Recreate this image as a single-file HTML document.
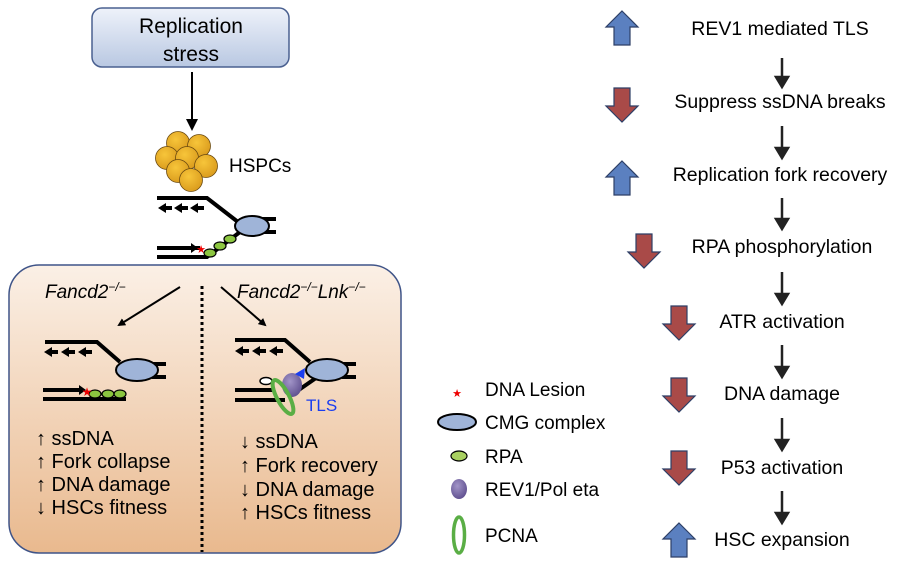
<!DOCTYPE html>
<html><head><meta charset="utf-8"><style>
html,body{margin:0;padding:0;background:#fff;}
svg{display:block;font-family:"Liberation Sans",Arial,sans-serif;}
</style></head><body>
<svg width="900" height="566" viewBox="0 0 900 566" xmlns="http://www.w3.org/2000/svg">
<defs>
<linearGradient id="bx" x1="0" y1="0" x2="0" y2="1"><stop offset="0" stop-color="#eef2fa"/><stop offset="1" stop-color="#b9c8e2"/></linearGradient>
<linearGradient id="big" x1="0" y1="0" x2="0" y2="1"><stop offset="0" stop-color="#fbf0e6"/><stop offset="1" stop-color="#e9b98e"/></linearGradient>
<radialGradient id="cell" cx="0.4" cy="0.35" r="0.7"><stop offset="0" stop-color="#f7c53a"/><stop offset="1" stop-color="#d99a1c"/></radialGradient>
<radialGradient id="pur" cx="0.4" cy="0.35" r="0.7"><stop offset="0" stop-color="#a295c8"/><stop offset="1" stop-color="#5e4e8e"/></radialGradient>
<marker id="ah" markerWidth="8" markerHeight="8" refX="6" refY="4" orient="auto" markerUnits="userSpaceOnUse"><path d="M0,0 L8,4 L0,8 z" fill="#000"/></marker>
<marker id="ah2" markerWidth="12" markerHeight="12" refX="9" refY="6" orient="auto" markerUnits="userSpaceOnUse"><path d="M0,0 L12,6 L0,12 z" fill="#000"/></marker>
<g id="up"><path d="M16,0 L32,16 L24,16 L24,34 L8,34 L8,16 L0,16 Z" fill="#5b80c0" stroke="#2d3f66" stroke-width="1.2"/></g>
<g id="dn"><path d="M8,0 L24,0 L24,18 L32,18 L16,34 L0,18 L8,18 Z" fill="#a94a48" stroke="#2d3f66" stroke-width="1.2"/></g>
</defs>

<rect x="92" y="8" width="197" height="59" rx="10" fill="url(#bx)" stroke="#4a6090" stroke-width="1.5"/>
<text x="191" y="33" font-size="21" text-anchor="middle">Replication</text>
<text x="191" y="61" font-size="21" text-anchor="middle">stress</text>
<line x1="192" y1="72" x2="192" y2="128" stroke="#000" stroke-width="2" marker-end="url(#ah2)"/>

<g stroke="#6b4a10" stroke-width="0.8" fill="url(#cell)">
<circle cx="178" cy="143" r="11.5"/><circle cx="199" cy="146" r="11.5"/>
<circle cx="167" cy="158" r="11.5"/><circle cx="187" cy="158" r="11.5"/>
<circle cx="178" cy="171" r="11.5"/><circle cx="206" cy="166" r="11.5"/>
<circle cx="191" cy="180" r="11.5"/>
</g>
<text x="229" y="172" font-size="19">HSPCs</text>

<g stroke="#000" stroke-width="4" fill="none">
<polyline points="157,198 207,198 238,222"/>
<polyline points="157,257 207,257 240,232"/>
<line x1="157" y1="248" x2="200" y2="248"/>
<line x1="262" y1="219" x2="276" y2="219"/><line x1="262" y1="232" x2="276" y2="232"/>
</g>
<path d="M198,248 l-7,-5 v10 z" fill="#000"/>
<g fill="#000">
<path d="M158,208 l8,-5 v3 h6 v4 h-6 v3 z"/><path d="M174,208 l8,-5 v3 h6 v4 h-6 v3 z"/><path d="M190,208 l8,-5 v3 h6 v4 h-6 v3 z"/>
</g>
<ellipse cx="252" cy="226" rx="17" ry="10" fill="#9fb4d8" stroke="#000" stroke-width="2"/>
<g fill="#8cc640" stroke="#000" stroke-width="1.2">
<ellipse cx="210" cy="253" rx="6" ry="4"/><ellipse cx="220" cy="246" rx="6" ry="4"/><ellipse cx="230" cy="239" rx="6" ry="4"/>
</g>
<text x="201" y="253" font-size="11" fill="#e00" text-anchor="middle">★</text>

<rect x="9" y="265" width="392" height="288" rx="30" fill="url(#big)" stroke="#3f5488" stroke-width="1.5"/>
<text x="45" y="298" font-size="19" font-style="italic">Fancd2<tspan font-size="12" dy="-7">−/−</tspan></text>
<text x="237" y="298" font-size="19" font-style="italic">Fancd2<tspan font-size="12" dy="-7">−/−</tspan><tspan dy="7">Lnk</tspan><tspan font-size="12" dy="-7">−/−</tspan></text>
<line x1="202" y1="286" x2="202" y2="552" stroke="#000" stroke-width="3" stroke-dasharray="3,3"/>
<line x1="180" y1="287" x2="119" y2="325" stroke="#000" stroke-width="2" marker-end="url(#ah)"/>
<line x1="221" y1="287" x2="265" y2="325" stroke="#000" stroke-width="2" marker-end="url(#ah)"/>

<g stroke="#000" stroke-width="4" fill="none">
<polyline points="45,342 97,342 120,362"/>
<line x1="43" y1="390" x2="82" y2="390"/><line x1="43" y1="399" x2="126" y2="399"/>
<line x1="152" y1="364" x2="166" y2="364"/><line x1="152" y1="377" x2="166" y2="377"/>
</g>
<path d="M86,390 l-7,-5 v10 z" fill="#000"/>
<g fill="#000"><path d="M44,352 l8,-5 v3 h6 v4 h-6 v3 z"/><path d="M61,352 l8,-5 v3 h6 v4 h-6 v3 z"/><path d="M78,352 l8,-5 v3 h6 v4 h-6 v3 z"/></g>
<ellipse cx="137" cy="370" rx="21" ry="11" fill="#9fb4d8" stroke="#000" stroke-width="2"/>
<g fill="#8cc640" stroke="#000" stroke-width="1.2">
<ellipse cx="95" cy="394" rx="6" ry="4"/><ellipse cx="108" cy="394" rx="6" ry="4"/><ellipse cx="120" cy="394" rx="6" ry="4"/>
</g>
<text x="87" y="396" font-size="12" fill="#e00" text-anchor="middle">★</text>

<g stroke="#000" stroke-width="4" fill="none">
<polyline points="235,340 285,340 310,362"/>
<line x1="235" y1="390" x2="275" y2="390"/><line x1="235" y1="400" x2="285" y2="400"/>
<line x1="290" y1="396" x2="316" y2="378"/>
<line x1="342" y1="364" x2="356" y2="364"/><line x1="342" y1="377" x2="356" y2="377"/>
</g>
<g fill="#000"><path d="M235,351 l8,-5 v3 h6 v4 h-6 v3 z"/><path d="M252,351 l8,-5 v3 h6 v4 h-6 v3 z"/><path d="M269,351 l8,-5 v3 h6 v4 h-6 v3 z"/></g>
<ellipse cx="327" cy="370" rx="21" ry="11" fill="#9fb4d8" stroke="#000" stroke-width="2"/>
<ellipse cx="266" cy="381" rx="6" ry="3.5" fill="#fff" stroke="#000" stroke-width="1.5"/>
<ellipse cx="292" cy="385" rx="10" ry="12" fill="url(#pur)"/>
<ellipse cx="283" cy="397" rx="6" ry="19" fill="none" stroke="#5aae45" stroke-width="4" transform="rotate(-28 283 397)"/>
<path d="M295,374 l10,-6 l-1,11 z" fill="#1a3df0"/>
<text x="306" y="411" font-size="17" fill="#1a3df0">TLS</text>

<g font-size="20">
<text x="36" y="445">↑ ssDNA</text>
<text x="36" y="468">↑ Fork collapse</text>
<text x="36" y="491">↑ DNA damage</text>
<text x="36" y="514">↓ HSCs fitness</text>
<text x="240" y="448">↓ ssDNA</text>
<text x="240" y="472">↑ Fork recovery</text>
<text x="240" y="496">↓ DNA damage</text>
<text x="240" y="519">↑ HSCs fitness</text>
</g>

<text x="457" y="397" font-size="11" fill="#e00" text-anchor="middle">★</text>
<text x="485" y="396" font-size="19">DNA Lesion</text>
<ellipse cx="457" cy="422" rx="19" ry="8" fill="#9fb4d8" stroke="#000" stroke-width="2"/>
<text x="485" y="429" font-size="19">CMG complex</text>
<ellipse cx="459" cy="456" rx="8" ry="5" fill="#a8d060" stroke="#000" stroke-width="1.2"/>
<text x="485" y="463" font-size="19">RPA</text>
<ellipse cx="459" cy="489" rx="8" ry="10" fill="url(#pur)"/>
<text x="485" y="496" font-size="19">REV1/Pol eta</text>
<ellipse cx="459" cy="535" rx="5.5" ry="18" fill="none" stroke="#5aae45" stroke-width="3.5"/>
<text x="485" y="542" font-size="19">PCNA</text>

<use href="#up" x="606" y="11"/>
<use href="#dn" x="606" y="88"/>
<use href="#up" x="606" y="161"/>
<use href="#dn" x="628" y="234"/>
<use href="#dn" x="663" y="306"/>
<use href="#dn" x="663" y="378"/>
<use href="#dn" x="663" y="451"/>
<use href="#up" x="663" y="523"/>
<g font-size="19.5" text-anchor="middle">
<text x="780" y="35">REV1 mediated TLS</text>
<text x="780" y="108">Suppress ssDNA breaks</text>
<text x="780" y="181">Replication fork recovery</text>
<text x="782" y="253">RPA phosphorylation</text>
<text x="782" y="328">ATR activation</text>
<text x="782" y="400">DNA damage</text>
<text x="782" y="474">P53 activation</text>
<text x="782" y="546">HSC expansion</text>
</g>
<g stroke="#222" stroke-width="2.5" fill="#222">
<line x1="782" y1="58" x2="782" y2="80"/><path d="M776,77 h12 l-6,10 z"/>
<line x1="782" y1="126" x2="782" y2="151"/><path d="M776,148 h12 l-6,10 z"/>
<line x1="782" y1="198" x2="782" y2="222"/><path d="M776,219 h12 l-6,10 z"/>
<line x1="782" y1="272" x2="782" y2="297"/><path d="M776,294 h12 l-6,10 z"/>
<line x1="782" y1="345" x2="782" y2="370"/><path d="M776,367 h12 l-6,10 z"/>
<line x1="782" y1="418" x2="782" y2="443"/><path d="M776,440 h12 l-6,10 z"/>
<line x1="782" y1="491" x2="782" y2="516"/><path d="M776,513 h12 l-6,10 z"/>
</g>
</svg>
</body></html>
